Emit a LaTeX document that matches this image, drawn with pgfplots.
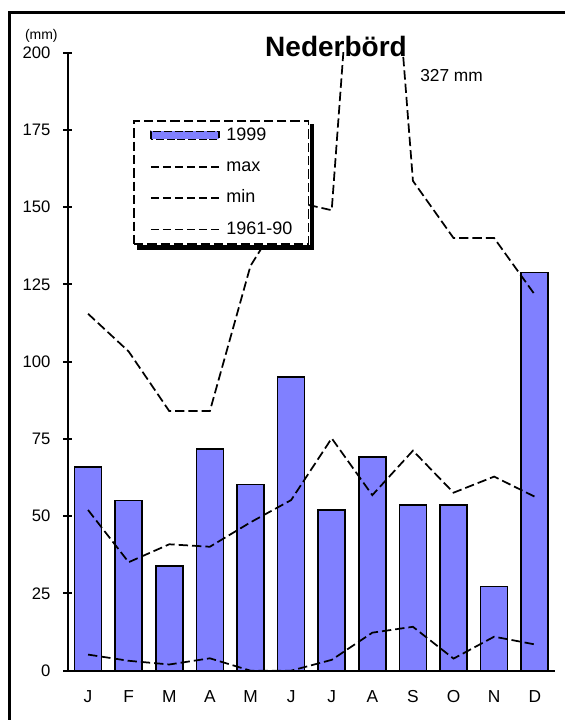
\documentclass[border=0pt]{standalone}
\usepackage{fontspec}
\setmainfont{Liberation Sans}
\usepackage{pgfplots}
\pgfplotsset{compat=1.18}
\definecolor{barblue}{RGB}{128,128,255}

% monthly precipitation (mm)
\pgfplotstableread{
m  y1999 pmax  pmin  pmean
0  66.0  115.5  5.2  52.0
1  55.1  103.3  3.2  35.1
2  33.8   84.0  2.0  40.9
3  71.8   84.0  4.0  40.1
4  60.2  131.0  0.0  48.0
5  95.1  152.0  0.0  55.2
6  51.9  149.0  3.5  75.2
7  69.2  327.0 12.3  56.8
8  53.7  158.5 14.2  71.2
9  53.7  140.0  3.9  57.6
10 27.2  140.0 11.0  62.8
11 128.8 121.7  8.5  56.3
}\prec

\pgfplotsset{
  barleg/.style={legend image code/.code={\draw[fill=barblue, draw=black, line width=1.4pt, dash pattern=on 6pt off 2pt] (0pt,-3pt) rectangle (51pt,3pt);}},
  lineleg/.style={legend image code/.code={\draw[black, line width=1.4pt, dash pattern=on 6.5pt off 2.5pt] (0pt,0pt) -- (51pt,0pt);}},
}

\begin{document}
\begin{tikzpicture}[x=1pt,y=1pt]
\useasboundingbox (0,0) rectangle (423,540);
\begin{axis}[
  at={(50.8pt,37pt)}, anchor=south west,
  scale only axis, width=365.5pt, height=463.5pt,
  xmin=-0.5, xmax=11.5, ymin=0, ymax=200,
  axis lines=left,
  axis line style={-, line width=1.5pt},
  ytick={0,25,...,200},
  xtick={0,...,11},
  xticklabels={J,F,M,A,M,J,J,A,S,O,N,D},
  xtick style={draw=none},
  ytick style={line width=1.5pt, black},
  major tick length=7pt, tick align=center,
  /pgf/number format/assume math mode=true,
  yticklabel style={font=\fontsize{12.5}{14}\selectfont, xshift=-6pt},
  xticklabel style={font=\fontsize{13}{15}\selectfont, yshift=-8pt},
  legend style={name=leg, at={(rel axis cs:0.134,0.891)}, anchor=north west,
    draw=black, line width=1.2pt, dash pattern=on 7pt off 3pt,
    fill=white, font=\fontsize{13.5}{15}\selectfont,
    inner xsep=12pt, inner ysep=5pt, row sep=11.5pt, column sep=5pt,
    nodes={text height=9.5pt, text depth=2.5pt, inner sep=0pt}},
  legend cell align=left,
]
\addlegendimage{barleg}
\addlegendentry{1999}
\addlegendimage{lineleg}
\addlegendentry{max}
\addlegendimage{lineleg}
\addlegendentry{min}
\addlegendimage{lineleg}
\addlegendentry{1961-90}

\addplot[ybar, bar width=0.665, fill=barblue, draw=black, line width=1.2pt, forget plot] table[x=m, y=y1999] {\prec};
\addplot[black, line width=1.3pt, dash pattern=on 7pt off 3pt, forget plot] table[x=m, y=pmax] {\prec};
\addplot[black, line width=1.3pt, dash pattern=on 7pt off 3pt, forget plot] table[x=m, y=pmin] {\prec};
\addplot[black, line width=1.3pt, dash pattern=on 7pt off 3pt, forget plot] table[x=m, y=pmean] {\prec};
\end{axis}
% shadow along the right and bottom of the legend box
\fill[black] ([xshift=3pt,yshift=-0.3pt]leg.south west) rectangle ([xshift=3.6pt,yshift=-3.6pt]leg.south east);
\fill[black] ([xshift=0.3pt,yshift=-3pt]leg.north east) rectangle ([xshift=3.6pt,yshift=-3.6pt]leg.south east);
\node[anchor=base, font=\bfseries\fontsize{21}{25}\selectfont] at (252,497.5) {Nederbörd};
\node[anchor=base west, inner sep=0pt, font=\fontsize{13}{15}\selectfont] at (315,478.5) {327 mm};
\node[anchor=base, inner sep=0pt, font=\fontsize{10.5}{12}\selectfont] at (31,510) {(mm)};
\draw[line width=2.25pt] (6.75,-10) -- (6.75,530.25) -- (440,530.25);
\end{tikzpicture}
\end{document}
